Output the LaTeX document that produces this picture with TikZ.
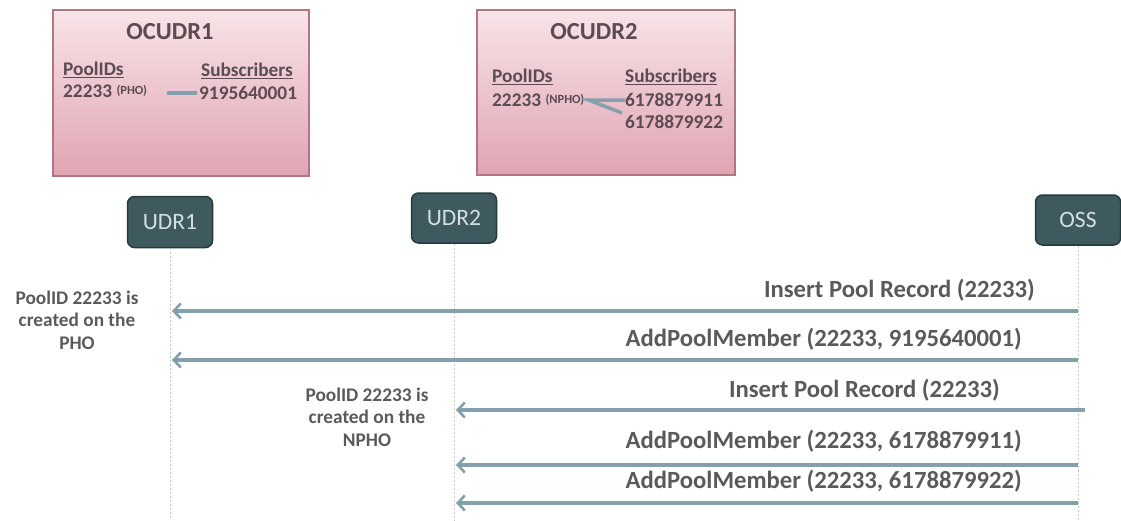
\documentclass[tikz,border=0pt]{standalone}
\usepackage{fontspec}
\setmainfont{Carlito}
\usepackage{tikz}
\usetikzlibrary{arrows.meta}
\usetikzlibrary{positioning,shapes}
\usetikzlibrary{calc}

\definecolor{boxtop}{HTML}{F8E4E8}
\definecolor{boxbot}{HTML}{E0A4B2}
\definecolor{boxline}{HTML}{B07682}
\definecolor{udrfill}{HTML}{3E5A5F}
\definecolor{udrline}{HTML}{263A3D}
\definecolor{udrtext}{HTML}{D3DFE1}
\definecolor{msgcol}{HTML}{84A0AD}
\definecolor{txtcol}{HTML}{5A5A5A}
\definecolor{boxtxt}{HTML}{5C4B52}
\definecolor{lifecol}{HTML}{C2C6C8}

\begin{document}
\begin{tikzpicture}[x=1pt,y=-1pt,
    dbbox/.style={draw=boxline, line width=1.2pt, top color=boxtop, bottom color=boxbot, minimum width=256pt, minimum height=166pt, inner sep=0pt},
    dbtitle/.style={text=boxtxt, font=\fontsize{24.5}{28}\selectfont\bfseries, inner sep=0pt},
    dbtext/.style={text=boxtxt, font=\fontsize{19.3}{22}\selectfont\bfseries, inner sep=0pt, anchor=west},
    dbsmall/.style={text=boxtxt, font=\fontsize{12.5}{14}\selectfont\bfseries, inner sep=0pt},
    link/.style={draw=msgcol, line width=3.5pt},
    actor/.style={draw=udrline, line width=1.5pt, fill=udrfill, rounded corners=7pt, text=udrtext, font=\fontsize{23.5}{26}\selectfont, minimum width=85pt, minimum height=51pt},
    life/.style={draw=lifecol, line width=1pt, dash pattern=on 2pt off 2pt},
    msg/.style={draw=msgcol, line width=3.2pt, -{Straight Barb[length=7pt,width=15pt,line width=2.6pt]}, shorten >=2pt},
    lbl/.style={text=txtcol, font=\fontsize{24.7}{28}\selectfont\bfseries, inner sep=0pt, anchor=east},
    note/.style={text=txtcol, font=\fontsize{19.3}{22.5}\selectfont\bfseries, align=center, inner sep=0pt}]
    \useasboundingbox (0,0) rectangle (1121,520);

    \node[dbbox] (OC1) at (181,93) {};
    \node[dbtitle] (OC1t) at (170,32) {OCUDR1};
    \node[dbtext] (pid1) at (63,70) {\underline{PoolIDs}};
    \node[dbtext] (pool1) at (63,91) {22233};
    \node[dbsmall, right=4pt of pool1] (pho1) {(PHO)};
    \node[dbtext] (sub1) at (201,71) {\underline{Subscribers}};
    \node[dbtext] (s11) at (199,93) {9195640001};
    \draw[link] ([xshift=-32pt]s11.west) -- ([xshift=-2pt]s11.west);

    \node[dbbox, minimum width=258pt, minimum height=165pt] (OC2) at (606,92.5) {};
    \node[dbtitle] (OC2t) at (594,32) {OCUDR2};
    \node[dbtext] (pid2) at (492,77) {\underline{PoolIDs}};
    \node[dbtext] (pool2) at (492,100) {22233};
    \node[dbsmall, right=4pt of pool2] (pho2) {(NPHO)};
    \node[dbtext] (sub2) at (625,77) {\underline{Subscribers}};
    \node[dbtext] (s21) at (625,100) {6178879911};
    \node[dbtext] (s22) at (625,122) {6178879922};
    \coordinate (fork) at ([xshift=4pt]pho2.east);
    \draw[link] (s21.west) -- (fork) -- ([xshift=-3pt,yshift=9pt]s22.west);

    \node[actor] (UDR1) at (170,222) {UDR1};
    \node[actor, minimum height=50pt] (UDR2) at (454,218) {UDR2};
    \node[actor, minimum height=50pt] (OSS) at (1078,220) {OSS};
    \coordinate (bot) at (0,520);
    \draw[life] (UDR1.south) -- (UDR1 |- bot);
    \draw[life] (UDR2.south) -- (UDR2 |- bot);
    \draw[life] (OSS.south) -- (OSS |- bot);

    \coordinate (m1) at (OSS |- 0,311);
    \coordinate (m2) at (OSS |- 0,360);
    \coordinate (m3) at ([xshift=7pt]OSS |- 0,410);
    \coordinate (m4) at (OSS |- 0,465);
    \coordinate (m5) at (OSS |- 0,503);
    \draw[msg] (m1) -- (m1 -| UDR1);
    \draw[msg] (m2) -- (m2 -| UDR1);
    \draw[msg] (m3) -- (m3 -| UDR2);
    \draw[msg] (m4) -- (m4 -| UDR2);
    \draw[msg] (m5) -- (m5 -| UDR2);

    \node[lbl] (l1) at (1035,290) {Insert Pool Record (22233)};
    \node[lbl] (l2) at (1022,339) {AddPoolMember (22233, 9195640001)};
    \node[lbl] (l3) at (1000,390) {Insert Pool Record (22233)};
    \node[lbl] (l4) at (1022,441) {AddPoolMember (22233, 6178879911)};
    \node[lbl] (l5) at (1022,481) {AddPoolMember (22233, 6178879922)};

    \node[note] (n1) at (77,320) {PoolID 22233 is\\created on the\\PHO};
    \node[note] (n2) at (367,417) {PoolID 22233 is\\created on the\\NPHO};
\end{tikzpicture}
\end{document}
